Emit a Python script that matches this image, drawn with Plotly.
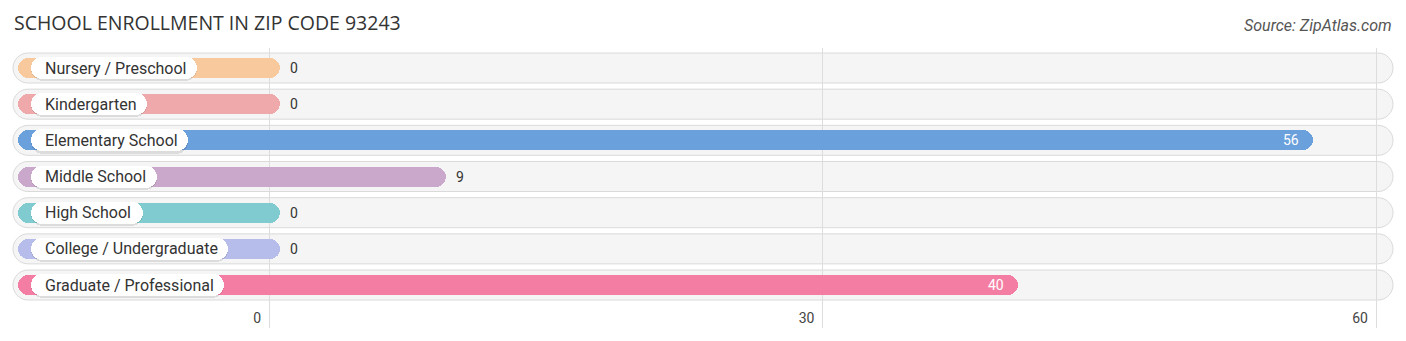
import plotly.graph_objects as go

# ---------------- data ----------------
categories = ["Nursery / Preschool", "Kindergarten", "Elementary School", "Middle School",
              "High School", "College / Undergraduate", "Graduate / Professional"]
values = [0, 0, 56, 9, 0, 0, 40]
colors = ["#f8c99d", "#f0a9aa", "#6aa0dc", "#c9a8cc", "#7fcbcf", "#b6bdea", "#f47ea3"]
tick_vals = [0, 30, 60]
tick_text = ["0", "30", "60"]
title_text = "SCHOOL ENROLLMENT IN ZIP CODE 93243"
source_text = "Source: ZipAtlas.com"

# ---------------- geometry helpers ----------------
W, H = 1406, 341
M_T, M_B = 48, 13
X0_PX = 269.0            # pixel of value 0
SX = 1107.0 / 60.0       # px per unit on x
ROW0_PX = 68.0           # centre of first row
SY = 36.17               # px per row
x_lo = -X0_PX / SX
x_hi = (W - X0_PX) / SX
y_top = (M_T - ROW0_PX) / SY
y_bot = (H - M_B - ROW0_PX) / SY


def px2x(px):
    return (px - X0_PX) / SX


def hy(px):
    return px / SY


# approximate Roboto advance widths (1/2048 em)
_w = dict(a=1088, b=1120, c=1044, d=1126, e=1058, f=696, g=1122, h=1100, i=486, j=478, k=1014,
          l=486, m=1751, n=1102, o=1140, p=1120, q=1126, r=678, s=1032, t=654, u=1100, v=968,
          w=1502, x=992, y=946, z=992, A=1336, B=1276, C=1336, D=1346, E=1164, F=1132, G=1396,
          H=1462, I=558, J=1132, K=1286, L=1102, M=1790, N=1462, O=1410, P=1292, Q=1410,
          R=1262, S=1232, T=1236, U=1330, V=1304, W=1818, X=1284, Y=1230, Z=1226)
_w[" "] = 508
_w["/"] = 844


def text_px(s, size):
    return sum(_w.get(ch, 1100) for ch in s) / 2048.0 * size


LABEL_SIZE = 16
n = len(categories)
idx = list(range(n))

fig = go.Figure()

# ---------------- background pills (shapes below gridlines) ----------------
bg_x0, bg_x1 = px2x(13), px2x(1393)
K = 0.5523
for i in idx:
    h = hy(15)
    rx = 15 / SX
    yt, yb = i - h, i + h
    a, b = bg_x0 + rx, bg_x1 - rx
    path = (f"M {a},{yt} L {b},{yt} "
            f"C {b + K*rx},{yt} {bg_x1},{i - K*h} {bg_x1},{i} "
            f"C {bg_x1},{i + K*h} {b + K*rx},{yb} {b},{yb} "
            f"L {a},{yb} "
            f"C {a - K*rx},{yb} {bg_x0},{i + K*h} {bg_x0},{i} "
            f"C {bg_x0},{i - K*h} {a - K*rx},{yt} {a},{yt} Z")
    fig.add_shape(type="path", path=path, xref="x", yref="y", layer="below",
                  fillcolor="#f5f5f5", line=dict(color="#dadada", width=1))

# ---------------- coloured bars ----------------
bar_start = px2x(18)
cap = 11 / SX
for i, v in enumerate(values):
    fig.add_trace(go.Bar(orientation="h", y=[i], base=[bar_start], x=[v + cap - bar_start],
                         width=hy(20),
                         marker=dict(color=colors[i], cornerradius=10, line=dict(width=0)),
                         hoverinfo="skip", showlegend=False))

# ---------------- label pills ----------------
lab_x0 = px2x(31)
for i, cat in enumerate(categories):
    wpx = text_px(cat, LABEL_SIZE) + 27
    fig.add_trace(go.Bar(orientation="h", y=[i + hy(1.2)], base=[lab_x0], x=[wpx / SX],
                         width=hy(24), marker=dict(color="rgba(0,0,0,0.10)", cornerradius=12,
                                                   line=dict(width=0)),
                         hoverinfo="skip", showlegend=False))
    fig.add_trace(go.Bar(orientation="h", y=[i], base=[lab_x0], x=[wpx / SX], width=hy(22),
                         marker=dict(color="#ffffff", cornerradius=11, line=dict(width=0)),
                         hoverinfo="skip", showlegend=False))
    fig.add_annotation(x=px2x(43), y=i, xref="x", yref="y", text=cat, showarrow=False,
                       xanchor="left", yanchor="middle",
                       font=dict(family="Roboto", size=LABEL_SIZE, color="#333333"))

# ---------------- value labels ----------------
for i, v in enumerate(values):
    end = v + cap
    if v >= 15:
        fig.add_annotation(x=end - 12 / SX, y=i, xref="x", yref="y", text=str(v), showarrow=False,
                           xanchor="right", yanchor="middle",
                           font=dict(family="Roboto", size=14, color="#ffffff"))
    else:
        fig.add_annotation(x=end + 8 / SX, y=i, xref="x", yref="y", text=str(v), showarrow=False,
                           xanchor="left", yanchor="middle",
                           font=dict(family="Roboto", size=14, color="#333333"))

# ---------------- title / source ----------------
plot_h = H - M_T - M_B
fig.add_annotation(x=12 / W, y=(H - M_B - 22) / plot_h, xref="paper", yref="paper",
                   text=title_text, showarrow=False, xanchor="left", yanchor="middle",
                   font=dict(family="Open Sans", size=19.5, color="#333333"))
fig.add_annotation(x=1394 / W, y=(H - M_B - 25) / plot_h, xref="paper", yref="paper",
                   text="<i>" + source_text + "</i>", showarrow=False, xanchor="right",
                   yanchor="middle", font=dict(family="Roboto", size=16, color="#555555"))

fig.update_layout(
    width=W, height=H, autosize=False,
    margin=dict(l=0, r=0, t=M_T, b=M_B, pad=0),
    paper_bgcolor="#ffffff", plot_bgcolor="rgba(0,0,0,0)",
    barmode="overlay", bargap=0,
    xaxis=dict(range=[x_lo, x_hi], tickvals=tick_vals, ticktext=tick_text,
               ticklabelposition="inside left", ticklabelshift=-8, ticklabelstandoff=-4,
               showgrid=True, gridcolor="#dddddd", gridwidth=1,
               zeroline=False, showline=False, ticks="",
               tickfont=dict(family="Roboto", size=14, color="#444444"), fixedrange=True),
    yaxis=dict(range=[y_bot, y_top], showticklabels=False, showgrid=False, zeroline=False,
               showline=False, ticks="", fixedrange=True),
    showlegend=False,
)

fig.write_html("out.html")
